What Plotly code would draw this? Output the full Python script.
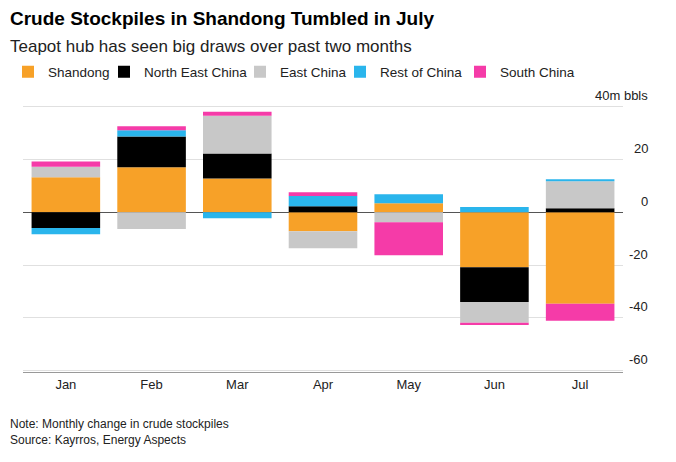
import plotly.graph_objects as go

months = ["Jan", "Feb", "Mar", "Apr", "May", "Jun", "Jul"]
shandong = [13.2, 17.0, 12.8, -7.2, 3.4, -20.8, -34.7]
north_east = [-6.0, 11.7, 9.4, 2.3, 0.0, -13.2, 1.5]
east = [4.0, -6.4, 14.3, -6.4, -3.8, -7.9, 10.2]
rest = [-2.3, 2.3, -2.3, 3.8, 3.4, 2.0, 0.8]
south = [2.0, 1.5, 1.5, 1.5, -12.5, -0.8, -6.4]

tick_vals = [40, 20, 0, -20, -40, -60]
tick_text = ["40m bbls", "20", "0", "-20", "-40", "-60"]

series = [
    ("Shandong", shandong, "#f7a128"),
    ("North East China", north_east, "#000000"),
    ("East China", east, "#c8c8c8"),
    ("Rest of China", rest, "#2ab5ec"),
    ("South China", south, "#f53ba8"),
]
# left edge of each legend entry, in pixels
legend_x = [0, 96, 232, 332, 452]

fig = go.Figure()
font = "Liberation Sans, Arial, sans-serif"
for i, (name, vals, color) in enumerate(series):
    lg = "legend" if i == 0 else f"legend{i + 1}"
    fig.add_trace(go.Bar(x=months, y=vals, name=name, marker_color=color,
                         marker_line_width=0, legend=lg))
    fig.update_layout({lg: dict(orientation="h", xref="container",
                                x=legend_x[i] / 676, xanchor="left",
                                yref="container", y=1 - 64 / 462, yanchor="middle",
                                font=dict(size=13.5), itemwidth=30,
                                bgcolor="rgba(0,0,0,0)")})

fig.update_layout(
    barmode="relative",
    bargap=0.2,
    width=676, height=462,
    margin=dict(l=15, r=61, t=88, b=98, autoexpand=False),
    paper_bgcolor="white", plot_bgcolor="white",
    font=dict(family=font, size=13, color="#222"),
    showlegend=True,
    xaxis=dict(showgrid=False, ticks="", showline=True, linecolor="#999",
               tickfont=dict(size=13)),
    yaxis=dict(side="right", range=[-60.5, 44], tickvals=tick_vals,
               showticklabels=False, gridcolor="#e0e0e0", zeroline=True,
               zerolinecolor="#555", zerolinewidth=1),
)

for v, t in zip(tick_vals, tick_text):
    fig.add_annotation(x=1.045, xref="paper", y=v, yref="y", text=t,
                       showarrow=False, xanchor="right", yshift=11,
                       font=dict(size=13, color="#222"))

fig.add_annotation(x=0, y=1, xref="paper", yref="paper", yshift=78, xshift=-15,
                   text="<b>Crude Stockpiles in Shandong Tumbled in July</b>",
                   showarrow=False, xanchor="left", yanchor="middle",
                   font=dict(size=19, color="#000"))
fig.add_annotation(x=0, y=1, xref="paper", yref="paper", yshift=50, xshift=-15,
                   text="Teapot hub has seen big draws over past two months",
                   showarrow=False, xanchor="left", yanchor="middle",
                   font=dict(size=17, color="#222"))
fig.add_annotation(x=0, y=0, xref="paper", yref="paper", yshift=-43, xshift=-15,
                   text="Note: Monthly change in crude stockpiles<br>Source: Kayrros, Energy Aspects",
                   showarrow=False, xanchor="left", yanchor="top", align="left",
                   font=dict(size=12, color="#222"))

fig.write_html("out.html")
